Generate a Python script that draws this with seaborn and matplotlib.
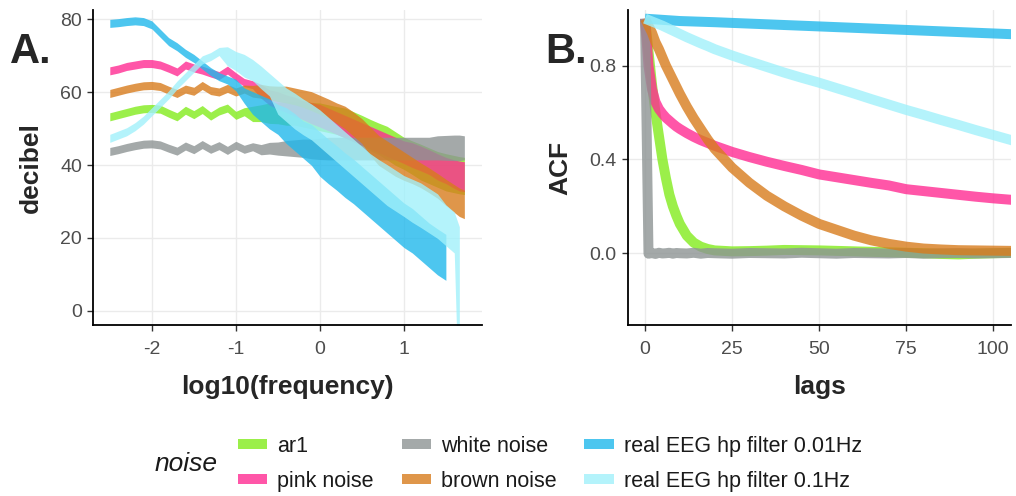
import numpy as np
import pandas as pd
import matplotlib
matplotlib.use("Agg")
import matplotlib.pyplot as plt
from matplotlib.lines import Line2D
import seaborn as sns

# noise types, in drawing order
NOISE = ["ar1", "pink noise", "white noise", "brown noise",
         "real EEG hp filter 0.01Hz", "real EEG hp filter 0.1Hz"]
COLORS = ["#82EB1D", "#FF2C92", "#8D9494", "#D87C1D", "#21B8EC", "#A1F1FB"]

# panel A: spectra (centre of the trace and half spread of its wobble, dB)
FREQ = [-2.5, -2.4, -2.3, -2.2, -2.1, -2.0, -1.9, -1.8, -1.7, -1.6,
        -1.5, -1.4, -1.3, -1.2, -1.1, -1.0, -0.9, -0.8, -0.7, -0.6,
        -0.5, -0.4, -0.3, -0.2, -0.1, 0.0, 0.1, 0.2, 0.3, 0.4,
        0.5, 0.6, 0.7, 0.8, 0.9, 1.0, 1.1, 1.2, 1.3, 1.4,
        1.5, 1.6, 1.66, 1.72]

ar1_db = [53.2, 53.8, 54.4, 55.0, 55.4, 55.5, 55.3, 54.2, 53.2, 55.0,
          53.8, 55.2, 53.4, 54.8, 55.6, 53.6, 54.6, 54.0, 54.2, 54.2,
          54.2, 54.2, 54.2, 54.0, 53.5, 53.2, 52.7, 52.2, 51.5, 50.5,
          49.5, 48.2, 47.2, 46.0, 44.5, 43.2, 42.0, 40.8, 39.8, 38.8,
          38.0, 37.5, 37.2, 37.0]
ar1_spread = [0] * 17 + [1.0, 1.2, 1.7, 1.8, 2.2, 2.2, 2.5, 2.5, 2.7, 2.7,
                         2.7, 3.0, 3.0, 3.0, 3.2, 3.2, 3.5, 3.5, 3.3, 3.5,
                         3.8, 3.8, 3.8, 4.0, 4.0, 4.0, 4.0]

pink_db = [65.8, 66.3, 67.0, 67.4, 67.8, 67.8, 67.4, 66.5, 65.5, 67.4,
           66.6, 66.0, 65.2, 64.5, 66.0, 64.2, 62.6, 62.0, 60.2, 58.5,
           57.7, 56.8, 56.0, 55.0, 54.2, 53.5, 52.5, 51.5, 50.5, 49.5,
           48.5, 47.5, 46.5, 45.5, 44.5, 43.5, 42.7, 41.8, 40.8, 39.5,
           38.5, 37.5, 37.0, 36.8]
pink_spread = [0] * 18 + [0.8, 1.0, 1.3, 1.3, 1.5, 1.5, 1.8, 2.0,
                          2.0, 2.0, 2.0, 2.0, 2.0, 2.0, 2.0, 2.0, 2.0, 2.0,
                          2.3, 2.3, 2.3, 2.5, 2.5, 2.8, 3.0, 3.0]

white_db = [43.7, 44.2, 44.8, 45.3, 45.7, 45.8, 45.5, 44.6, 43.8, 45.2,
            44.2, 45.6, 44.3, 45.3, 44.0, 45.4, 44.3, 45.0, 44.2, 44.6,
            44.5, 44.6, 44.6, 44.6, 44.4, 44.4, 44.5, 44.5, 44.5, 44.5,
            44.5, 44.5, 44.5, 44.5, 44.5, 44.5, 44.5, 44.5, 44.5, 44.7,
            44.7, 44.7, 44.7, 44.7]
white_spread = [0] * 18 + [0.3, 0.5, 0.7, 1.0, 1.2, 1.4, 1.6, 1.8,
                           2.0, 2.0, 2.0, 2.0, 2.0, 2.0, 2.0, 2.0, 2.0, 2.0,
                           2.0, 2.0, 2.0, 2.2, 2.3, 2.4, 2.4, 2.2]

brown_db = [59.6, 60.2, 60.8, 61.3, 61.7, 61.8, 61.5, 60.5, 59.6, 60.8,
            60.2, 61.8, 60.4, 60.0, 61.0, 60.0, 60.8, 60.2, 60.2, 59.8,
            59.5, 59.3, 58.8, 58.2, 57.5, 56.5, 55.5, 54.2, 53.0, 51.2,
            49.3, 46.5, 44.0, 42.5, 41.0, 39.7, 38.5, 37.2, 35.8, 34.3,
            32.5, 30.8, 29.8, 29.2]
brown_spread = [0] * 17 + [0.5, 0.8, 0.8, 1.0, 1.2, 1.2, 1.3, 1.5, 1.5,
                           1.5, 1.7, 2.0, 2.2, 2.3, 2.8, 3.0, 3.0, 3.0, 2.8,
                           2.5, 2.3, 2.3, 2.3, 2.5, 2.7, 2.8, 2.8]

eeg001_db = [78.8, 79.0, 79.3, 79.5, 79.3, 78.4, 76.1, 73.8, 72.4, 70.6,
             69.2, 67.4, 65.6, 64.2, 63.3, 61.9, 59.0, 57.0, 55.5, 54.0,
             52.5, 50.8, 49.0, 47.0, 45.5, 43.0, 41.0, 39.2, 37.2, 35.5,
             33.5, 31.5, 29.5, 27.5, 25.5, 23.5, 22.0, 20.0, 18.0, 16.2,
             14.7, np.nan, np.nan, np.nan]
eeg001_spread = [0] * 15 + [0.5, 1.0, 2.0, 2.5, 3.0, 3.0, 3.8, 4.0, 4.0, 4.5,
                            5.0, 5.0, 5.0, 5.0, 5.0, 5.0, 5.0, 5.0, 5.0, 5.0,
                            5.0, 5.0, 5.0, 5.0, 5.2, 5.2, np.nan, np.nan, np.nan]

eeg01_db = [47.3, 48.2, 49.1, 50.5, 52.3, 54.6, 56.9, 59.2, 61.9, 64.2,
            66.5, 68.8, 69.7, 71.1, 69.8, 68.5, 67.2, 66.0, 64.0, 62.0,
            58.5, 56.5, 54.8, 53.2, 51.8, 50.0, 48.0, 46.0, 44.0, 42.0,
            40.0, 38.0, 36.2, 34.5, 33.0, 31.5, 30.2, 29.0, 27.5, 26.0,
            23.5, 21.5, -4.0, np.nan]
eeg01_spread = [0] * 14 + [1.5, 1.5, 2.0, 1.8, 2.0, 2.0, 3.5, 3.5, 3.8, 3.8,
                           3.8, 4.0, 4.0, 4.0, 4.0, 4.0, 4.0, 4.0, 4.2, 4.5,
                           4.5, 4.5, 4.8, 5.0, 5.0, 5.0, 4.5, 4.5, 26.0, np.nan]

# panel B: autocorrelation
LAGS = [0, 1, 2, 3, 4, 5, 6, 7, 8, 9, 10, 12, 14, 16, 18, 20, 25, 30, 35, 40,
        45, 50, 55, 60, 65, 70, 75, 80, 85, 90, 95, 100, 105, 110]
acf_ar1 = [1.0, 0.86, 0.72, 0.6, 0.5, 0.4, 0.32, 0.25, 0.2, 0.16, 0.125,
           0.075, 0.045, 0.028, 0.018, 0.012, 0.008, 0.009, 0.011, 0.014,
           0.013, 0.012, 0.01, 0.008, 0.006, 0.004, 0.002, 0.0, -0.003,
           -0.005, -0.002, 0.0, 0.002, 0.002]
acf_pink = [1.0, 0.8, 0.7, 0.645, 0.615, 0.595, 0.578, 0.565, 0.552, 0.54,
            0.53, 0.512, 0.496, 0.482, 0.47, 0.458, 0.432, 0.41, 0.39, 0.372,
            0.355, 0.336, 0.324, 0.312, 0.3, 0.289, 0.273, 0.265, 0.257,
            0.249, 0.241, 0.234, 0.228, 0.222]
acf_white = [1.0, -0.002, 0.001, -0.003, 0.002, -0.001, 0.0, 0.002, -0.002,
             0.001, 0.0, -0.001, 0.002, -0.002, 0.001, 0.0, -0.002, 0.001,
             0.0, -0.001, 0.002, 0.0, -0.002, 0.001, 0.0, -0.001, 0.001,
             -0.002, 0.0, 0.001, -0.001, 0.0, 0.001, 0.0]
acf_brown = [1.0, 0.97, 0.94, 0.9, 0.87, 0.835, 0.8, 0.77, 0.74, 0.71, 0.68,
             0.625, 0.575, 0.53, 0.485, 0.445, 0.365, 0.3, 0.245, 0.2, 0.16,
             0.125, 0.1, 0.075, 0.055, 0.04, 0.028, 0.02, 0.016, 0.013,
             0.012, 0.011, 0.01, 0.01]
acf_eeg001 = [1.0, 0.999, 0.998, 0.997, 0.996, 0.995, 0.994, 0.993, 0.992,
              0.991, 0.99, 0.989, 0.988, 0.987, 0.986, 0.985, 0.982, 0.979,
              0.976, 0.973, 0.97, 0.967, 0.964, 0.961, 0.958, 0.955, 0.952,
              0.949, 0.946, 0.943, 0.94, 0.937, 0.934, 0.931]
acf_eeg01 = [1.0, 0.994, 0.988, 0.982, 0.976, 0.97, 0.963, 0.956, 0.949,
             0.942, 0.935, 0.921, 0.908, 0.895, 0.883, 0.87, 0.843, 0.818,
             0.794, 0.77, 0.748, 0.727, 0.704, 0.681, 0.657, 0.634, 0.611,
             0.59, 0.568, 0.547, 0.525, 0.504, 0.483, 0.462]

spectra = [(ar1_db, ar1_spread), (pink_db, pink_spread), (white_db, white_spread),
           (brown_db, brown_spread), (eeg001_db, eeg001_spread), (eeg01_db, eeg01_spread)]
acfs = [acf_ar1, acf_pink, acf_white, acf_brown, acf_eeg001, acf_eeg01]

sns.set_theme(style="whitegrid")
plt.rcParams["font.family"] = ["Liberation Sans", "DejaVu Sans"]
plt.rcParams["axes.unicode_minus"] = False

W, H = 1016, 496
fig = plt.figure(figsize=(W / 100, H / 100), dpi=100)
bottom = (H - 325) / H
height = 315 / H
axA = fig.add_axes([93 / W, bottom, 389 / W, height])
axB = fig.add_axes([627.7 / W, bottom, 383.3 / W, height])

ALPHA = 0.8
PAD = 1.1  # half the drawn line thickness, in dB

for (db, spr), col in zip(spectra, COLORS):
    db = np.array(db, dtype=float)
    spr = np.array(spr, dtype=float)
    axA.fill_between(FREQ, db - spr - PAD, db + spr + PAD,
                     color=col, alpha=ALPHA, lw=0)

acf_df = pd.DataFrame({
    "lags": np.tile(LAGS, len(NOISE)),
    "ACF": np.concatenate(acfs),
    "noise": np.repeat(NOISE, len(LAGS)),
})
sns.lineplot(data=acf_df, x="lags", y="ACF", hue="noise", hue_order=NOISE,
             palette=dict(zip(NOISE, COLORS)), lw=7.2, alpha=ALPHA,
             legend=False, ax=axB, solid_capstyle="butt")

axA.set_xlim(-2.70, 1.93)
axA.set_ylim(-3.84, 82.47)
axA.set_xticks([-2, -1, 0, 1])
axA.set_yticks([0, 20, 40, 60, 80])
axA.set_xlabel("log10(frequency)")
axA.set_ylabel("decibel")

axB.set_xlim(-4.97, 105.1)
axB.set_ylim(-0.306, 1.037)
axB.set_xticks([0, 25, 50, 75, 100])
axB.set_yticks([0.0, 0.4, 0.8])
axB.set_yticklabels(["0.0", "0.4", "0.8"])
axB.set_xlabel("lags")
axB.set_ylabel("ACF")

for ax in (axA, axB):
    ax.set_facecolor("white")
    ax.grid(True, color="#EBEBEB", lw=1.0)
    ax.set_axisbelow(True)
    for s in ("top", "right"):
        ax.spines[s].set_visible(False)
    for s in ("left", "bottom"):
        ax.spines[s].set_visible(True)
        ax.spines[s].set_color("black")
        ax.spines[s].set_linewidth(1.3)
    ax.tick_params(axis="both", length=4, width=1.0, color="#333333",
                   labelsize=14, labelcolor="#4D4D4D", pad=4,
                   bottom=True, left=True)
    ax.tick_params(axis="x", pad=7.5)
    ax.xaxis.label.set_fontsize(19)
    ax.xaxis.label.set_fontweight("bold")
    ax.yaxis.label.set_fontsize(19)
    ax.yaxis.label.set_fontweight("bold")
    ax.xaxis.labelpad = 12
    ax.yaxis.labelpad = 12

fig.text(10 / W, 1 - 63 / H, "A.", fontsize=30, fontweight="bold", va="baseline")
fig.text(545 / W, 1 - 63 / H, "B.", fontsize=30, fontweight="bold", va="baseline")

# legend: title on the left, keys in three columns
handles = [Line2D([0], [0], color=c, lw=7.2, alpha=ALPHA, solid_capstyle="butt")
           for c in COLORS]
fig.text(155 / W, 1 - 464 / H, "noise", fontsize=19, fontstyle="italic",
         va="center", ha="left", color="#1A1A1A")
fig.legend(handles, NOISE, ncol=3, loc="center left",
           bbox_to_anchor=(238 / W, 1 - 464 / H), frameon=False,
           fontsize=15.5, handlelength=1.35, handletextpad=0.47,
           columnspacing=1.3, labelspacing=0.65, borderpad=0, borderaxespad=0,
           labelcolor="#1A1A1A")

fig.savefig("out.png", dpi=100)
